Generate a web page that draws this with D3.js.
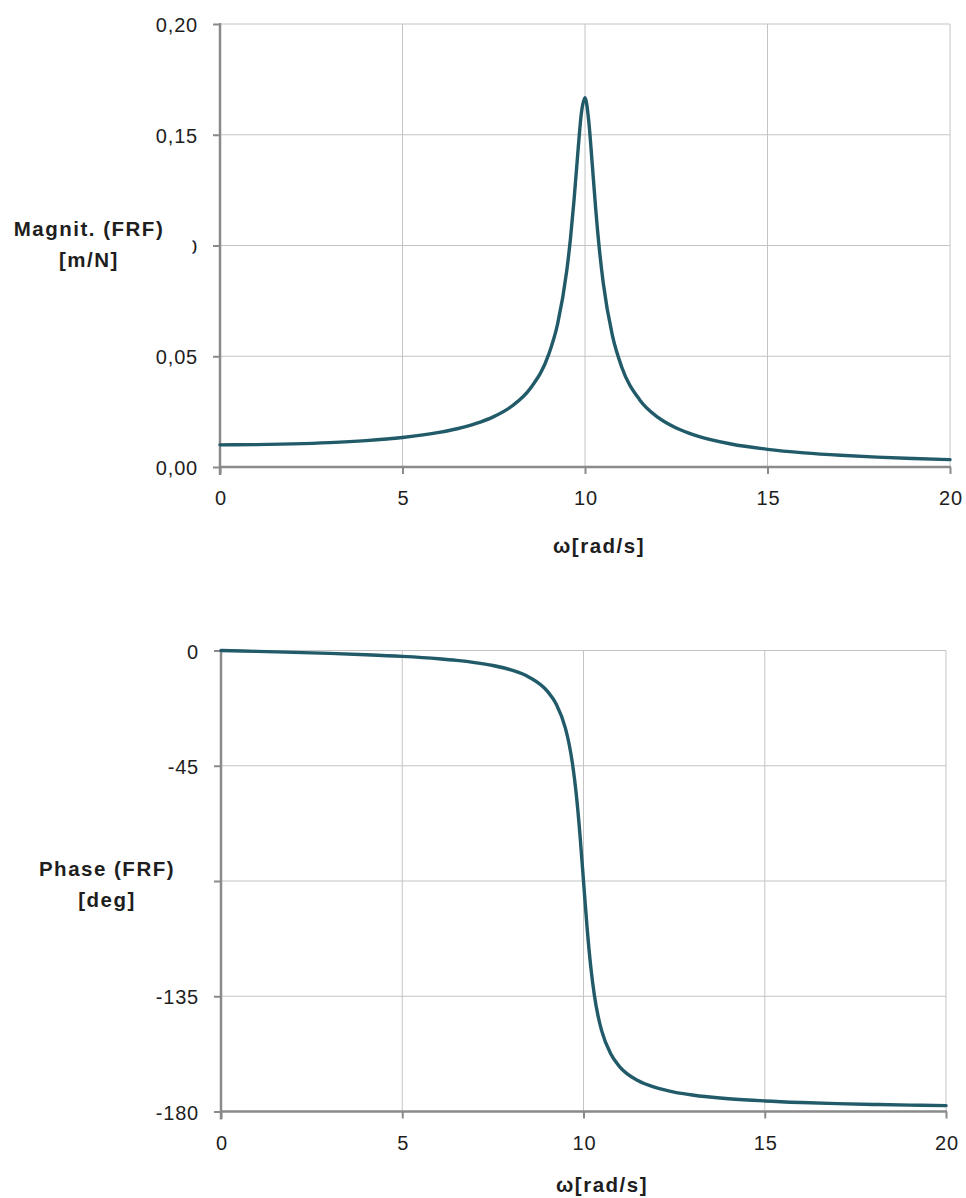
<!DOCTYPE html>
<html>
<head>
<meta charset="utf-8">
<script src="https://cdn.jsdelivr.net/npm/d3@7/dist/d3.min.js"></script>
<style>
  html, body { margin: 0; padding: 0; background: #fff; }
  svg { display: block; }
  text { font-family: "Liberation Sans", Arial, Helvetica, sans-serif; }
</style>
</head>
<body>
<svg id="chart" width="966" height="1198"></svg>
<script>
// ---- Data ----
const omega = [0, 1, 2, 3, 4, 5, 6, 6.5, 7, 7.5, 8, 8.5, 9, 9.25, 9.5, 9.6, 9.7, 9.8, 9.9, 10,
               10.1, 10.2, 10.3, 10.4, 10.5, 10.75, 11, 11.5, 12, 12.5, 13, 14, 15, 16, 17, 18, 19, 20];
const magnitude = [0.0100, 0.0101, 0.01042, 0.01099, 0.0119, 0.01332, 0.0156, 0.01728, 0.01954, 0.02274,
                   0.02753, 0.03544, 0.0506, 0.06465, 0.0886, 0.1028, 0.1206, 0.1411, 0.1596, 0.1667,
                   0.1566, 0.1364, 0.1152, 0.0973, 0.0831, 0.0594, 0.0454, 0.0303, 0.0224, 0.01762,
                   0.0144, 0.01038, 0.00798, 0.0064, 0.00528, 0.00446, 0.00383, 0.00333];
const phase = [0, -0.35, -0.72, -1.13, -1.64, -2.29, -3.22, -3.86, -4.71, -5.87,
               -7.59, -10.41, -15.87, -21.03, -30.31, -36.30, -44.56, -56.04, -71.48, -90,
               -108.35, -123.43, -134.58, -142.59, -148.42, -157.48, -162.55, -167.92, -170.71, -172.41,
               -173.55, -175.0, -175.88, -176.48, -176.91, -177.24, -177.50, -177.71];

const xTicks = [0, 5, 10, 15, 20];
const xTickLabels = ["0", "5", "10", "15", "20"];
const magTicks = [0, 0.05, 0.10, 0.15, 0.20];
const magTickLabels = ["0,00", "0,05", "0,10", "0,15", "0,20"];
const phaseTicks = [0, -45, -90, -135, -180];
const phaseTickLabels = ["0", "-45", "-90", "-135", "-180"];

const xTitle = "ω[rad/s]";
const magTitle = ["Magnit. (FRF)", "[m/N]"];
const phaseTitle = ["Phase (FRF)", "[deg]"];

// ---- Styles ----
const lineColor = "#215a68";
const axisColor = "#8a8a8a";
const gridColor = "#c4c4c4";
const textColor = "#1e1e1e";
const tickFont = "20px";
const tickSpacing = "0.8px";
const titleFont = "20.5px";
const titleSpacing = "1.5px";

const svg = d3.select("#chart");

function drawPanel(cfg) {
  const g = svg.append("g");
  const x = d3.scaleLinear().domain([0, 20]).range([cfg.x0, cfg.x1]);
  const y = d3.scaleLinear().domain(cfg.yDomain).range([cfg.yBottom, cfg.yTop]);

  // grid
  g.append("g").selectAll("line").data(cfg.yTicks.filter(d => d !== cfg.yDomain[0]))
    .join("line")
    .attr("x1", cfg.x0).attr("x2", cfg.x1)
    .attr("y1", d => y(d)).attr("y2", d => y(d))
    .attr("stroke", gridColor).attr("stroke-width", 1);
  g.append("g").selectAll("line").data(xTicks.filter(d => d !== 0))
    .join("line")
    .attr("x1", d => x(d)).attr("x2", d => x(d))
    .attr("y1", cfg.yTop).attr("y2", cfg.yBottom)
    .attr("stroke", gridColor).attr("stroke-width", 1);

  // y axis
  const yAxis = d3.axisLeft(y).tickValues(cfg.yTicks)
    .tickFormat((d, i) => cfg.yTickLabels[i])
    .tickSize(7).tickSizeOuter(0).tickPadding(15);
  const ya = g.append("g").attr("transform", `translate(${cfg.x0},0)`).call(yAxis);
  ya.select(".domain").remove();
  ya.selectAll(".tick line").attr("stroke", axisColor).attr("stroke-width", 2);
  ya.selectAll(".tick text").attr("fill", textColor).attr("dy", null).attr("y", 7.5)
    .style("font-size", tickFont).style("letter-spacing", tickSpacing)
    .style("font-family", '"Liberation Sans", Arial, sans-serif');
  g.append("line")
    .attr("x1", cfg.x0).attr("x2", cfg.x0)
    .attr("y1", cfg.yTop - 1).attr("y2", cfg.yBottom + 8)
    .attr("stroke", axisColor).attr("stroke-width", 2.5);

  // x axis
  const xAxis = d3.axisBottom(x).tickValues(xTicks)
    .tickFormat((d, i) => xTickLabels[i])
    .tickSize(7).tickSizeOuter(0).tickPadding(17);
  const xa = g.append("g").attr("transform", `translate(0,${cfg.yBottom})`).call(xAxis);
  xa.select(".domain").remove();
  xa.selectAll(".tick line").attr("stroke", axisColor).attr("stroke-width", 2);
  xa.selectAll(".tick text").attr("fill", textColor).attr("dx", "0.4px")
    .style("font-size", tickFont).style("letter-spacing", tickSpacing)
    .style("font-family", '"Liberation Sans", Arial, sans-serif');
  g.append("line")
    .attr("x1", cfg.x0 - 1).attr("x2", cfg.x1 + 1)
    .attr("y1", cfg.yBottom).attr("y2", cfg.yBottom)
    .attr("stroke", axisColor).attr("stroke-width", 2.5);

  // data line
  const line = d3.line().x((d, i) => x(omega[i])).y(d => y(d)).curve(d3.curveMonotoneX);
  g.append("path").datum(cfg.values)
    .attr("d", line)
    .attr("fill", "none")
    .attr("stroke", lineColor)
    .attr("stroke-width", 3.4)
    .attr("stroke-linejoin", "round")
    .attr("stroke-linecap", "round");

  // x title
  g.append("text").attr("x", cfg.xTitleX).attr("y", cfg.xTitleY)
    .attr("text-anchor", "middle").attr("fill", textColor)
    .style("font-size", titleFont).style("font-weight", "bold")
    .style("letter-spacing", titleSpacing)
    .text(xTitle);

  // y title with its white box (covers the middle tick label as in the reference)
  g.append("rect")
    .attr("x", 0).attr("y", cfg.titleBox[0])
    .attr("width", cfg.titleBoxRight).attr("height", cfg.titleBox[1])
    .attr("fill", "#fff");
  const t = g.append("text").attr("text-anchor", "middle").attr("fill", textColor)
    .style("font-size", titleFont).style("font-weight", "bold")
    .style("letter-spacing", titleSpacing);
  cfg.yTitle.forEach((s, i) => {
    t.append("tspan").attr("x", cfg.yTitleX).attr("y", cfg.yTitleY + i * 31).text(s);
  });
}

drawPanel({
  x0: 220, x1: 950, yTop: 24, yBottom: 467,
  yDomain: [0, 0.20], yTicks: magTicks, yTickLabels: magTickLabels,
  values: magnitude,
  xTitleX: 599, xTitleY: 553,
  yTitle: magTitle, yTitleX: 89, yTitleY: 236,
  titleBox: [215, 60], titleBoxRight: 192.5
});

drawPanel({
  x0: 221, x1: 946, yTop: 650.5, yBottom: 1111.5,
  yDomain: [-180, 0], yTicks: phaseTicks, yTickLabels: phaseTickLabels,
  values: phase,
  xTitleX: 602, xTitleY: 1192,
  yTitle: phaseTitle, yTitleX: 107, yTitleY: 876,
  titleBox: [850, 65], titleBoxRight: 205
});
</script>
</body>
</html>
